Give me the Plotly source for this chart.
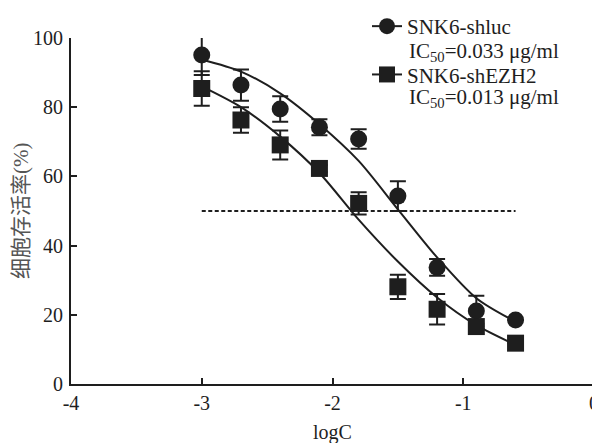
import plotly.graph_objects as go

# ---- data ----
log_c = [-3.0, -2.7, -2.4, -2.1, -1.8, -1.5, -1.2, -0.9, -0.6]
shluc_mean = [95.1, 86.4, 79.5, 74.2, 70.8, 54.3, 33.7, 21.1, 18.5]
shluc_err = [5.8, 4.5, 3.7, 2.3, 2.8, 4.3, 2.4, 4.4, 0.0]
shezh2_mean = [85.4, 76.3, 69.1, 62.3, 52.2, 28.1, 21.6, 16.6, 11.8]
shezh2_err = [5.0, 3.7, 4.2, 1.0, 3.2, 3.5, 4.4, 0.8, 0.0]

fit_x = [-3.0, -2.7, -2.4, -2.1, -1.8, -1.5, -1.2, -0.9, -0.6]
fit_shluc = [93.8, 90.3, 84.0, 75.1, 64.5, 50.5, 36.6, 24.8, 18.0]
fit_shezh2 = [86.0, 80.0, 71.5, 61.0, 47.5, 35.4, 25.0, 17.0, 11.3]

ref_x = [-3.0, -0.6]
ref_y = [50, 50]

series_names = ["SNK6-shluc", "SNK6-shEZH2"]
ic50_labels = ["IC<sub>50</sub>=0.033 μg/ml", "IC<sub>50</sub>=0.013 μg/ml"]

x_tick_vals = [-4, -3, -2, -1, 0]
x_tick_text = ["-4", "-3", "-2", "-1", "0"]
y_tick_vals = [0, 20, 40, 60, 80, 100]
y_tick_text = ["0", "20", "40", "60", "80", "100"]

x_title = "logC"
y_title = "细胞存活率(%)"

INK = "#1e1e1e"
SERIF = "Liberation Serif, Times New Roman, serif"

# page body has an 8px margin: figure is 8px smaller, plot area stays put
PLOT_L, PLOT_T, PLOT_W, PLOT_H = 71, 38, 523, 346


def px_x(px):
    return (px - PLOT_L) / PLOT_W


def px_y(py):
    return (PLOT_T + PLOT_H - py) / PLOT_H


fig = go.Figure()

fig.add_trace(go.Scatter(x=ref_x, y=ref_y, mode="lines",
                         line=dict(color=INK, width=1.8, dash="4px,2.5px"),
                         showlegend=False, hoverinfo="skip"))

for fy in (fit_shluc, fit_shezh2):
    fig.add_trace(go.Scatter(x=fit_x, y=fy, mode="lines",
                             line=dict(color=INK, width=2, shape="spline", smoothing=0.8),
                             showlegend=False, hoverinfo="skip"))

for mean, err, sym in ((shluc_mean, shluc_err, "circle"),
                       (shezh2_mean, shezh2_err, "square")):
    fig.add_trace(go.Scatter(x=log_c, y=mean, mode="markers",
                             marker=dict(symbol=sym, size=17, color=INK),
                             error_y=dict(type="data", array=err, visible=True,
                                          color=INK, thickness=2, width=8),
                             showlegend=False))

for i, (name, sym) in enumerate(zip(series_names, ("circle", "square"))):
    fig.add_trace(go.Scatter(x=[None], y=[None], mode="lines+markers", name=name,
                             legendgroup=f"g{i}",
                             line=dict(color=INK, width=2),
                             marker=dict(symbol=sym, size=16, color=INK)))

annotations = []
for lbl, py in zip(ic50_labels, (52, 98)):
    annotations.append(dict(text=lbl, xref="paper", yref="paper",
                            x=px_x(407), y=px_y(py), xanchor="left", yanchor="middle",
                            showarrow=False,
                            font=dict(family=SERIF, size=21, color=INK)))

annotations.append(dict(text=y_title, xref="paper", yref="paper",
                        x=px_x(21), y=0.5, xanchor="center", yanchor="middle",
                        textangle=-90, showarrow=False,
                        font=dict(family="Liberation Serif, Noto Sans CJK SC", size=21,
                                  color="#555555")))
annotations.append(dict(text=x_title, xref="paper", yref="paper",
                        x=0.5, y=px_y(432), xanchor="center", yanchor="middle",
                        showarrow=False,
                        font=dict(family=SERIF, size=20, color=INK)))

fig.update_layout(
    template="none",
    width=592, height=435,
    margin=dict(l=PLOT_L - 8, r=6, t=PLOT_T - 8, b=59, autoexpand=False),
    paper_bgcolor="white", plot_bgcolor="white",
    font=dict(family=SERIF, size=20, color=INK),
    showlegend=True,
    legend=dict(x=px_x(367), y=px_y(6), xanchor="left", yanchor="top",
                bgcolor="rgba(0,0,0,0)", borderwidth=0,
                font=dict(family=SERIF, size=21, color=INK),
                tracegroupgap=18, itemwidth=30, valign="middle"),
    annotations=annotations,
    xaxis=dict(range=[-4, 0], tickvals=x_tick_vals, ticktext=x_tick_text, automargin=False,
               showgrid=False, zeroline=False, showline=True, linecolor=INK, linewidth=2,
               ticks="inside", ticklen=6, tickwidth=2, tickcolor=INK,
               ticklabelstandoff=0, tickfont=dict(family=SERIF, size=20, color=INK)),
    yaxis=dict(range=[0, 100], tickvals=y_tick_vals, ticktext=y_tick_text, automargin=False,
               showgrid=False, zeroline=False, showline=True, linecolor=INK, linewidth=2,
               ticks="inside", ticklen=6, tickwidth=2, tickcolor=INK,
               ticklabelstandoff=2, tickfont=dict(family=SERIF, size=20, color=INK)),
)

fig.write_html("out.html")
